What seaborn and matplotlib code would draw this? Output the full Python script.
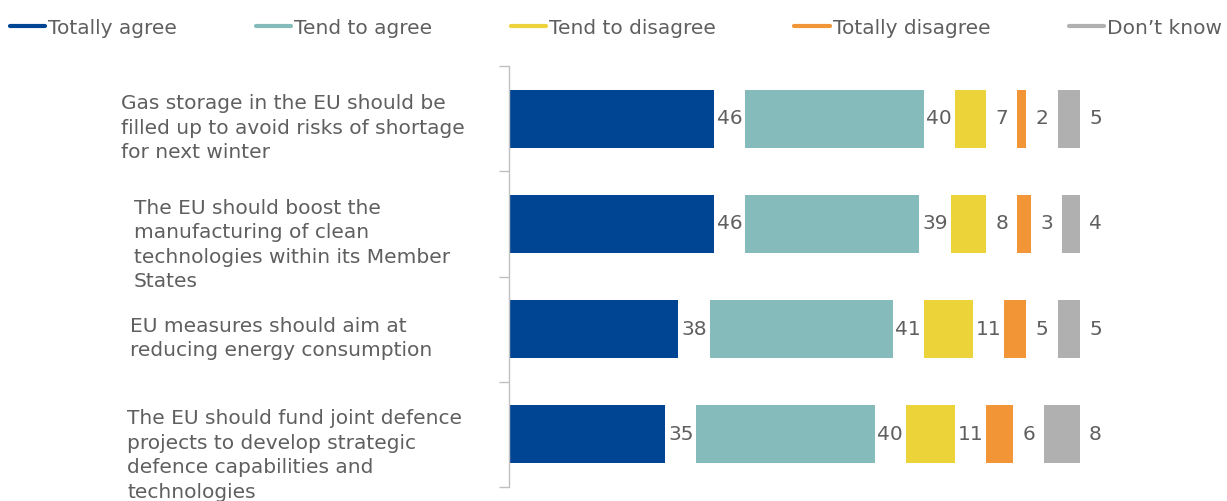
import matplotlib
matplotlib.use("Agg")
import matplotlib.pyplot as plt
import matplotlib.transforms as mtrans
from matplotlib.lines import Line2D
import seaborn as sns
import numpy as np
import pandas as pd

# ---- data ----
categories = [
    "Gas storage in the EU should be\nfilled up to avoid risks of shortage\nfor next winter",
    "The EU should boost the\nmanufacturing of clean\ntechnologies within its Member\nStates",
    "EU measures should aim at\nreducing energy consumption",
    "The EU should fund joint defence\nprojects to develop strategic\ndefence capabilities and\ntechnologies",
]
series_names = ["Totally agree", "Tend to agree", "Tend to disagree", "Totally disagree", "Don\u2019t know"]
totally_agree = [46, 46, 38, 35]
tend_to_agree = [40, 39, 41, 40]
tend_to_disagree = [7, 8, 11, 11]
totally_disagree = [2, 3, 5, 6]
dont_know = [5, 4, 5, 8]

# ---- style ----
colors = ["#004494", "#85BBBB", "#EDD33A", "#F29537", "#B0B0B0"]
text_color = "#5f5f5f"
gap = 7.0            # spacer between segments (in value units), holds the value label
fs = 14.5
label_x_px = [121, 134, 130, 127]
label_dy = [0.09, 0.2, 0.09, 0.2]

sns.set_style("white")
plt.rcParams["font.family"] = ["DejaVu Sans"]

W, H = 1227, 501
fig = plt.figure(figsize=(W / 100, H / 100), dpi=100)
ax = fig.add_axes([509 / W, 14 / H, 718 / W, 421 / H])

series = [totally_agree, tend_to_agree, tend_to_disagree, totally_disagree, dont_know]
offsets = np.zeros(len(categories))
ypos = list(range(len(categories)))
for name, vals, col in zip(series_names, series, colors):
    sns.barplot(x=vals, y=ypos, orient="h", color=col, width=0.55, saturation=1,
                left=offsets.copy(), ax=ax, native_scale=True, linewidth=0)
    offsets = offsets + np.array(vals)
    # invisible spacer segment carrying the value label
    sns.barplot(x=[gap] * len(vals), y=ypos, orient="h", color="white", alpha=0,
                width=0.55, left=offsets.copy(), ax=ax, native_scale=True, linewidth=0)
    ax.bar_label(ax.containers[-1], labels=[str(v) for v in vals], label_type="center",
                 fontsize=fs, color=text_color)
    offsets = offsets + gap

ax.set_xlim(0, 161)
ax.set_ylim(3.5, -0.5)
ax.set_xlabel("")
ax.set_ylabel("")
ax.set_xticks([])
ax.set_yticks([-0.5, 0.5, 1.5, 2.5, 3.5])
ax.set_yticklabels([])
ax.tick_params(axis="y", length=7, width=1, color="#c0c0c0", direction="out", left=True)
for s in ["top", "right", "bottom"]:
    ax.spines[s].set_visible(False)
ax.spines["left"].set_color("#c0c0c0")
ax.spines["left"].set_linewidth(1)

trans = mtrans.blended_transform_factory(fig.transFigure, ax.transData)
for i, cat in enumerate(categories):
    ax.text(label_x_px[i] / W, i + label_dy[i], cat, transform=trans, ha="left", va="center",
            fontsize=fs, color=text_color, linespacing=1.36)

handles = [Line2D([0], [0], color=c, lw=3) for c in colors]
fig.legend(handles, series_names, loc="center left", bbox_to_anchor=(10 / W, 1 - 28 / H),
           ncol=5, frameon=False, fontsize=fs, handlelength=1.75, handletextpad=0.15,
           columnspacing=3.9, borderpad=0, borderaxespad=0, labelcolor=text_color)

fig.savefig("out.png", dpi=100)
